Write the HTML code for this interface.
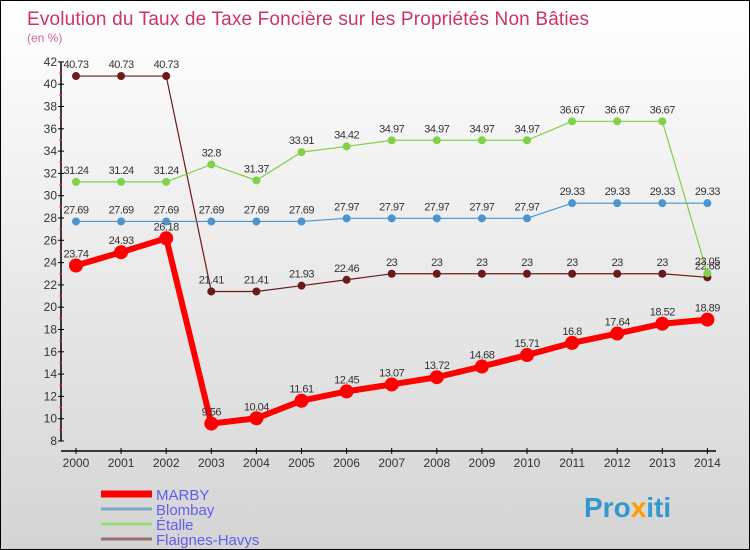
<!DOCTYPE html>
<html><head><meta charset="utf-8"><style>
body{margin:0}
#c{width:750px;height:550px;position:relative;box-sizing:border-box;border:1px solid #000;background:linear-gradient(#fff,#d4d4d4);font-family:"Liberation Sans",sans-serif;overflow:hidden}
</style></head><body>
<div id="c">
<svg id="s" width="748" height="548" style="position:absolute;left:0;top:0">
<text x="26" y="24" font-size="19" fill="#cc3366" textLength="562">Evolution du Taux de Taxe Foncière sur les Propriétés Non Bâties</text>
<text x="26" y="41" font-size="12" fill="#cc6699">(en %)</text>
<g id="axes"></g><g id="series"></g><g id="legend"></g>
<text x="583" y="516" font-size="28" font-weight="bold" fill="#3399cc">Pro<tspan fill="#ff9900">x</tspan>iti</text>
</svg></div>
<script>
const years=[2000,2001,2002,2003,2004,2005,2006,2007,2008,2009,2010,2011,2012,2013,2014];
const marby=[23.74,24.93,26.18,9.56,10.04,11.61,12.45,13.07,13.72,14.68,15.71,16.8,17.64,18.52,18.89];
const blombay=[27.69,27.69,27.69,27.69,27.69,27.69,27.97,27.97,27.97,27.97,27.97,29.33,29.33,29.33,29.33];
const etalle=[31.24,31.24,31.24,32.8,31.37,33.91,34.42,34.97,34.97,34.97,34.97,36.67,36.67,36.67,23.05];
const flaignes=[40.73,40.73,40.73,21.41,21.41,21.93,22.46,23,23,23,23,23,23,23,22.68];
const yTicks=[8,10,12,14,16,18,20,22,24,26,28,30,32,34,36,38,40,42];
const NS="http://www.w3.org/2000/svg";
const X=i=>75+i*45.1, Y=v=>440-(v-8)*11.15;
function mk(p,t,a){const e=document.createElementNS(NS,t);for(const k in a)e.setAttribute(k,a[k]);p.appendChild(e);return e;}
const ax=document.getElementById('axes');
let e=mk(ax,'line',{x1:60,y1:Y(42),x2:60,y2:440,stroke:'#000','stroke-width':1.5});

e=mk(ax,'line',{x1:60,y1:450,x2:715,y2:450,stroke:'#000','stroke-width':1.5});

yTicks.forEach(v=>{mk(ax,'line',{x1:57,y1:Y(v),x2:63,y2:Y(v),stroke:'#000'});
 if(v<42)mk(ax,'line',{x1:58,y1:Y(v+1),x2:61,y2:Y(v+1),stroke:'#f33'});
 const t=mk(ax,'text',{x:56,y:Y(v)+4,'font-size':12,fill:'#333','text-anchor':'end'});t.textContent=v;
 });
years.forEach((y,i)=>{mk(ax,'line',{x1:X(i),y1:447,x2:X(i),y2:453,stroke:'#000'});
 const t=mk(ax,'text',{x:X(i),y:466,'font-size':12,fill:'#333','text-anchor':'middle'});t.textContent=y;
 });
const ser=document.getElementById('series');
function draw(vals,col,w,r,name){const g=mk(ser,'g',{});
 
 mk(g,'polyline',{points:vals.map((v,i)=>X(i)+','+Y(v)).join(' '),fill:'none',stroke:col,'stroke-width':w});
 vals.forEach((v,i)=>{const c=mk(g,'circle',{cx:X(i),cy:Y(v),r:r,fill:col});
  
  const t=mk(g,'text',{x:X(i),y:Y(v)-8,'font-size':11,fill:'#333','text-anchor':'middle','letter-spacing':'-0.5'});t.textContent=v;
  });}
draw(flaignes,'#6b1a1a',1.2,4,'flaignes-havys');
draw(etalle,'#7fd147',1.2,4,'etalle');
draw(blombay,'#4d94cc',1.2,4,'blombay');
draw(marby,'#ff0000',6,7,'marby');
const lg=document.getElementById('legend');
[['MARBY','#ff0000',7,'marby'],['Blombay','#7aa7cc',3,'blombay'],['Étalle','#99dd77',3,'etalle'],['Flaignes-Havys','#997070',3,'flaignes-havys']].forEach((d,i)=>{
 const y=493+i*15;const g=mk(lg,'g',{});
 
 mk(g,'line',{x1:100,y1:y,x2:151,y2:y,stroke:d[1],'stroke-width':d[2]});
 const t=mk(g,'text',{x:155,y:y+6,'font-size':15,fill:'#5f5fee'});t.textContent=d[0];});
</script></body></html>
